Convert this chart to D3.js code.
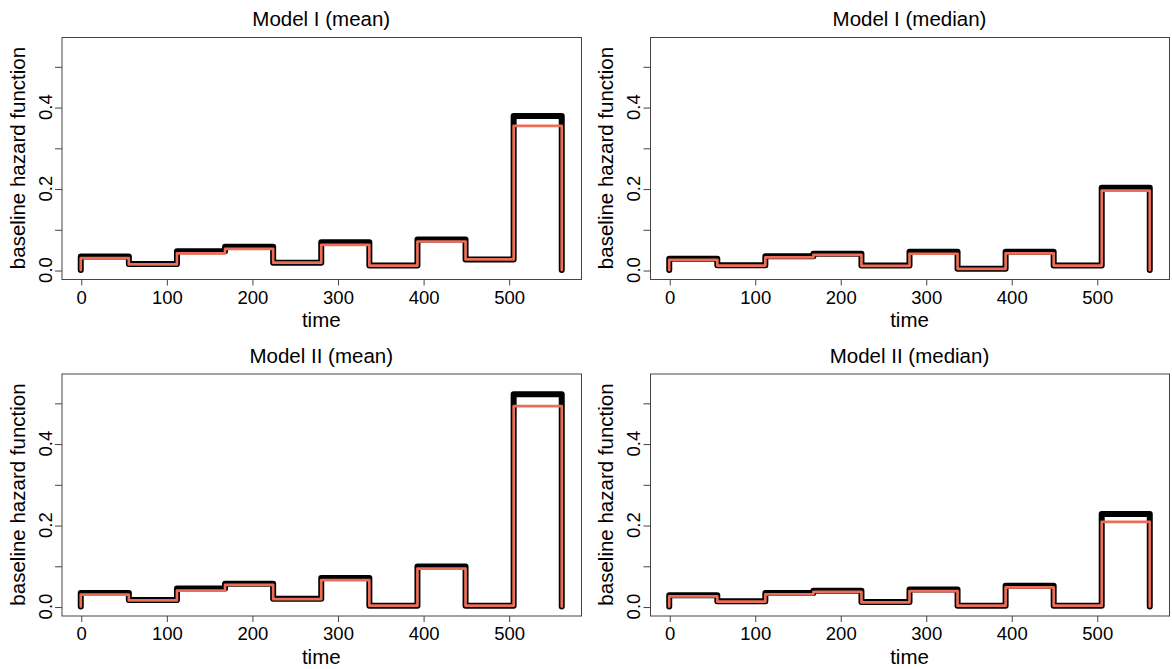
<!DOCTYPE html>
<html>
<head>
<meta charset="utf-8">
<script src="https://cdn.jsdelivr.net/npm/d3@7"></script>
<style>
  body { margin: 0; background: #fff; }
  svg { display: block; font-family: "Liberation Sans", Arial, Helvetica, sans-serif; }
</style>
</head>
<body>
<div id="chart"></div>
<script>
// interval cut points (time)
const cutTimes = [0, 56.2, 112.4, 168.6, 224.8, 281, 337.2, 393.4, 449.6, 505.8, 562];

const panelTitles = ["Model I (mean)", "Model I (median)", "Model II (mean)", "Model II (median)"];

// black = thick line, red = thin line on top
const model1MeanBlack = [0.033, 0.015, 0.046, 0.057, 0.018, 0.068, 0.011, 0.075, 0.026, 0.378];
const model1MeanRed = [0.029, 0.014, 0.041, 0.052, 0.018, 0.062, 0.011, 0.070, 0.026, 0.354];
const model1MedianBlack = [0.028, 0.012, 0.034, 0.040, 0.011, 0.045, 0.003, 0.045, 0.011, 0.202];
const model1MedianRed = [0.025, 0.011, 0.031, 0.037, 0.010, 0.040, 0.003, 0.041, 0.011, 0.195];
const model2MeanBlack = [0.033, 0.016, 0.044, 0.056, 0.019, 0.070, 0.002, 0.098, 0.002, 0.521];
const model2MeanRed = [0.029, 0.015, 0.039, 0.053, 0.018, 0.065, 0.002, 0.093, 0.002, 0.492];
const model2MedianBlack = [0.028, 0.013, 0.033, 0.039, 0.011, 0.042, 0.002, 0.051, 0.002, 0.227];
const model2MedianRed = [0.025, 0.012, 0.030, 0.036, 0.010, 0.038, 0.002, 0.047, 0.002, 0.208];

const xTicks = [0, 100, 200, 300, 400, 500];
const yTicks = [0, 0.1, 0.2, 0.3, 0.4, 0.5];
const yTickLabels = [0, 0.2, 0.4];

const width = 1172, height = 669;
const red = "#EC6E58";

const svg = d3.select("#chart")
    .append("svg")
    .attr("width", width)
    .attr("height", height);

svg.append("rect").attr("width", width).attr("height", height).attr("fill", "#fff");

// step points: start at 0, hold each value over its interval, drop to 0 at the end
function stepPoints(values) {
    let pts = [[cutTimes[0], 0]];
    values.forEach((v, i) => pts.push([cutTimes[i], v]));
    pts.push([cutTimes[cutTimes.length - 1], 0]);
    return pts;
}

function panel({ left, right, top, bottom, title, black, thin }) {
    let x = d3.scaleLinear()
        .domain([-22.5, 584.5])
        .range([left, right]);

    let y = d3.scaleLinear()
        .domain([-0.022, 0.572])
        .range([bottom, top]);

    const g = svg.append("g");

    let line = d3.line()
        .x(d => x(d[0]))
        .y(d => y(d[1]))
        .curve(d3.curveStepAfter);

    g.append("path")
        .attr("d", line(stepPoints(black)))
        .attr("fill", "none")
        .attr("stroke", "#000")
        .attr("stroke-width", 6)
        .attr("stroke-linejoin", "round")
        .attr("stroke-linecap", "round");

    g.append("path")
        .attr("d", line(stepPoints(thin)))
        .attr("fill", "none")
        .attr("stroke", red)
        .attr("stroke-width", 2.7)
        .attr("stroke-linejoin", "round")
        .attr("stroke-linecap", "round");

    // box
    g.append("rect")
        .attr("x", left + 0.5)
        .attr("y", top + 0.5)
        .attr("width", right - left)
        .attr("height", bottom - top)
        .attr("fill", "none")
        .attr("stroke", "#444")
        .attr("stroke-width", 1);

    // x axis
    g.append("g")
        .attr("transform", `translate(0.5,${bottom + 0.5})`)
        .call(d3.axisBottom(x).tickValues(xTicks).tickSize(6).tickPadding(4).tickFormat(d3.format("d")))
        .call(a => a.select(".domain").remove())
        .call(a => a.selectAll("line").attr("stroke", "#444"))
        .call(a => a.selectAll("text")
            .attr("fill", "#000")
            .attr("font-size", 18.5)
            .attr("font-family", "Liberation Sans, Arial, sans-serif")
            .attr("dy", null)
            .attr("y", 303 - 279 + 0));

    // y axis ticks
    g.append("g")
        .attr("transform", `translate(${left + 0.5},0.5)`)
        .call(d3.axisLeft(y).tickValues(yTicks).tickSize(7).tickFormat(""))
        .call(a => a.select(".domain").remove())
        .call(a => a.selectAll("line").attr("stroke", "#444"));

    g.append("g")
        .selectAll("text")
        .data(yTickLabels)
        .join("text")
        .attr("transform", d => `translate(${left - 10},${y(d)}) rotate(-90)`)
        .attr("text-anchor", "middle")
        .attr("font-size", 18.5)
        .attr("fill", "#000")
        .text(d => d3.format(".1f")(d));

    // titles
    g.append("text")
        .attr("x", (left + right) / 2)
        .attr("y", top - 11)
        .attr("text-anchor", "middle")
        .attr("font-size", 20.5)
        .text(title);

    g.append("text")
        .attr("x", (left + right) / 2)
        .attr("y", bottom + 48)
        .attr("text-anchor", "middle")
        .attr("font-size", 20.5)
        .text("time");

    g.append("text")
        .attr("transform", `translate(${left - 37},${(top + bottom) / 2}) rotate(-90)`)
        .attr("text-anchor", "middle")
        .attr("font-size", 20.5)
        .text("baseline hazard function");
}

panel({ left: 61.5, right: 581, top: 37, bottom: 279, title: panelTitles[0], black: model1MeanBlack, thin: model1MeanRed });
panel({ left: 650, right: 1169, top: 37, bottom: 279, title: panelTitles[1], black: model1MedianBlack, thin: model1MedianRed });
panel({ left: 61.5, right: 581, top: 373.5, bottom: 615.5, title: panelTitles[2], black: model2MeanBlack, thin: model2MeanRed });
panel({ left: 650, right: 1169, top: 373.5, bottom: 615.5, title: panelTitles[3], black: model2MedianBlack, thin: model2MedianRed });
</script>
</body>
</html>
